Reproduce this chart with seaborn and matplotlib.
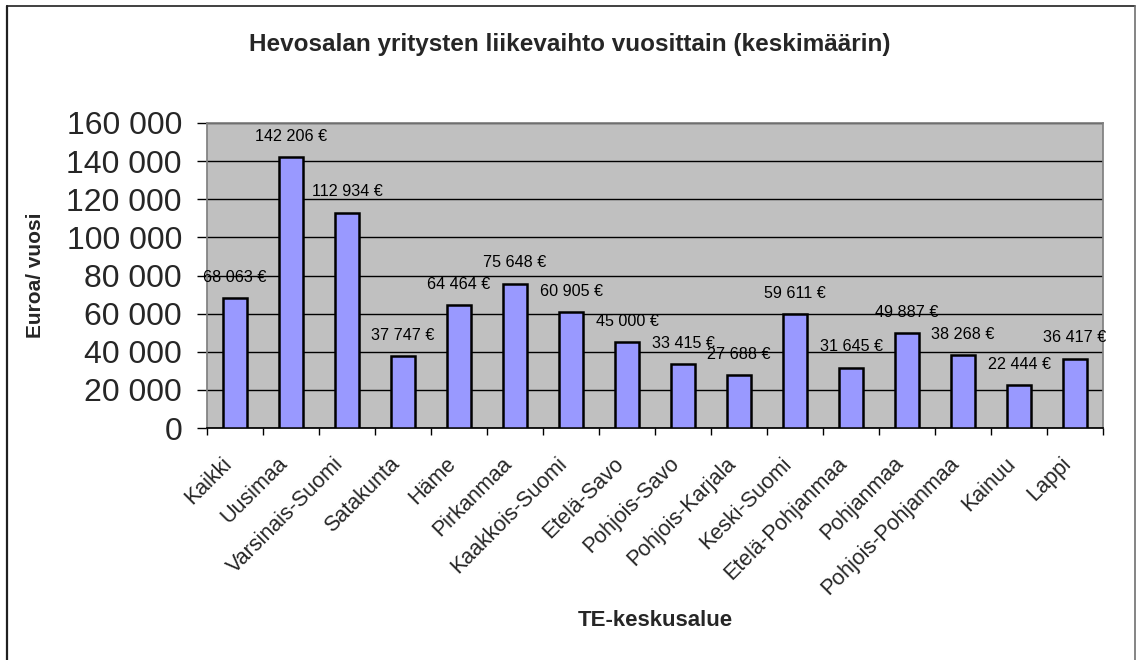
import matplotlib
matplotlib.use("Agg")
import matplotlib.pyplot as plt
import matplotlib.lines as mlines
import matplotlib.transforms as mtransforms
import numpy as np
import pandas as pd
import seaborn as sns

regions = ["Kaikki", "Uusimaa", "Varsinais-Suomi", "Satakunta", "Häme", "Pirkanmaa",
           "Kaakkois-Suomi", "Etelä-Savo", "Pohjois-Savo", "Pohjois-Karjala", "Keski-Suomi",
           "Etelä-Pohjanmaa", "Pohjanmaa", "Pohjois-Pohjanmaa", "Kainuu", "Lappi"]
values = [68063, 142206, 112934, 37747, 64464, 75648, 60905, 45000, 33415, 27688,
          59611, 31645, 49887, 38268, 22444, 36417]
y_ticks = [0, 20000, 40000, 60000, 80000, 100000, 120000, 140000, 160000]

title = "Hevosalan yritysten liikevaihto vuosittain (keskimäärin)"
x_title = "TE-keskusalue"
y_title = "Euroa/ vuosi"

def fmt(v):
    return f"{v:,}".replace(",", " ")

sns.set_theme(style="white")
plt.rcParams["font.family"] = ["Liberation Sans", "DejaVu Sans"]

fig = plt.figure(figsize=(11.36, 6.6), dpi=100)
fig.patch.set_facecolor("white")

# chart-area frame (left/top dark, right lighter, bottom beyond the image)
W, H = 1136, 660
fig.lines.append(mlines.Line2D([6.5 / W, 6.5 / W], [0, 1 - 5.5 / H], transform=fig.transFigure,
                               color="#202020", linewidth=1.6))
fig.lines.append(mlines.Line2D([6.5 / W, 1134.5 / W], [1 - 5.5 / H, 1 - 5.5 / H],
                               transform=fig.transFigure, color="#202020", linewidth=1.2))
fig.lines.append(mlines.Line2D([1134.5 / W, 1134.5 / W], [0, 1 - 5.5 / H], transform=fig.transFigure,
                               color="#707070", linewidth=1.2))

ax = fig.add_axes([207 / W, 1 - 428 / H, 896 / W, 305 / H])
df = pd.DataFrame({"alue": regions, "arvo": values})
sns.barplot(data=df, x="alue", y="arvo", color="#9999FF", saturation=1,
            edgecolor="black", linewidth=1.8, width=0.43, ax=ax, zorder=3)

ax.set_facecolor("#C0C0C0")
ax.set_xlim(-0.5, len(regions) - 0.5)
ax.set_ylim(0, 160000)
ax.set_yticks(y_ticks)
ax.set_yticklabels([fmt(t) for t in y_ticks], fontsize=23)
ax.yaxis.grid(True, color="black", linewidth=1)
ax.set_axisbelow(True)
ax.tick_params(axis="y", which="major", length=7, width=1, color="black", pad=11, left=True)

ax.set_xticks(np.arange(len(regions)))
ax.set_xticklabels(regions, rotation=45, ha="right", rotation_mode="anchor", fontsize=15.5)
ax.tick_params(axis="x", which="major", length=0, pad=18)
shift = mtransforms.ScaledTranslation(-14 / 100, 0, fig.dpi_scale_trans)
for lbl in ax.get_xticklabels():
    lbl.set_transform(lbl.get_transform() + shift)
ax.set_xticks(np.arange(-0.5, len(regions), 1), minor=True)
ax.tick_params(axis="x", which="minor", length=5, width=1, color="black", bottom=True)

for sp in ["top", "right", "left"]:
    ax.spines[sp].set_color("#808080")
ax.spines["bottom"].set_color("black")

for i, v in enumerate(values):
    ax.annotate(f"{fmt(v)} €", (i, v), xytext=(0, 15), textcoords="offset points",
                ha="center", va="center", fontsize=11.6, color="black")

ax.set_ylabel(y_title, fontsize=15, fontweight="bold")
ax.yaxis.set_label_coords((45 - 207) / 896, 0.5)
ax.set_xlabel(x_title, fontsize=16, fontweight="bold")
ax.xaxis.set_label_coords(0.5, (428 - 620) / 305)
ax.xaxis.label.set_va("center")

fig.text(570 / W, 1 - 44 / H, title, ha="center", va="center",
         fontsize=17.5, fontweight="bold")

fig.savefig("out.png", dpi=100)
